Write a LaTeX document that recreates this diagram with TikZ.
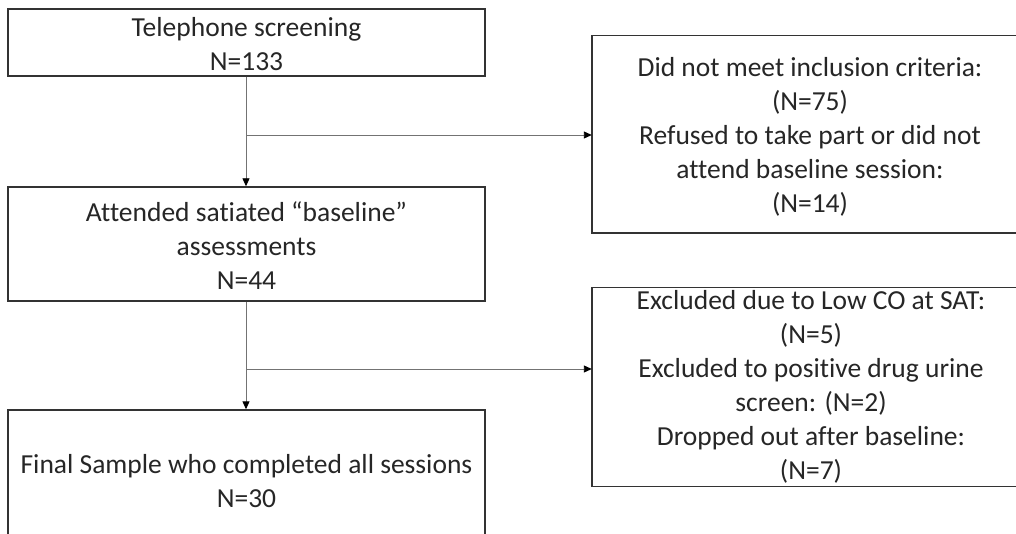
\documentclass[tikz,border=0pt]{standalone}
\usepackage{fontspec}
\setmainfont{Carlito}[Ligatures=NoCommon]
\usetikzlibrary{arrows.meta,fit}
\begin{document}
\begin{tikzpicture}[x=1pt,y=-1pt,
  frame/.style={draw=black!80, line width=1.4pt, rectangle, inner sep=0pt},
  openframe/.style={rectangle, inner sep=0pt},
  edge/.style={draw=black!80, line width=1.4pt},
  label/.style={inner sep=0pt, align=center,
    font=\fontsize{27.5pt}{34pt}\selectfont, text=black!85},
  conn/.style={draw=black!55, line width=0.9pt},
  arr/.style={conn, -{Triangle[length=8pt,width=7pt,color=black,fill=black]}}]
\useasboundingbox (0,0) rectangle (1016,534);
\clip (0,0) rectangle (1016,534);
\fill[white] (0,0) rectangle (1016,534);
% frames
\node[frame, fit={(8,9) (485,76)}] (tel) {};
\node[openframe, fit={(592,36) (1030,233)}] (excl1) {};
\node[frame, fit={(8,187) (485,301)}] (att) {};
\node[openframe, fit={(592,288) (1030,486)}] (excl2) {};
\node[frame, fit={(8,410) (485,600)}] (fin) {};
\draw[edge] (excl1.north east) -| (excl1.south west) -- (excl1.south east);
\draw[edge] (excl2.north east) -| (excl2.south west) -- (excl2.south east);
% texts
\node[label] (telt) at (246.5,44) {Telephone screening\\N=133};
\node[label] (excl1t) at (810,137) {Did not meet inclusion criteria:\\(N=75)\\Refused to take part or did not\\attend baseline session:\\(N=14)};
\node[label] (attt) at (246.5,246) {Attended satiated “baseline”\\assessments\\N=44};
\node[label] (excl2t) at (811,387) {Excluded due to Low CO at SAT:\\(N=5)\\Excluded to positive drug urine\\screen: (N=2)\\Dropped out after baseline:\\(N=7)};
\node[label] (fint) at (246.5,481) {Final Sample who completed all sessions\\N=30};
% connectors
\coordinate (j1) at (246,135);
\coordinate (j2) at (246,369);
\draw[conn] (tel.south -| j1) -- (j1);
\draw[arr] (j1) -- (att.north -| j1);
\draw[arr] (j1) -- (j1 -| excl1.west);
\draw[conn] (att.south -| j2) -- (j2);
\draw[arr] (j2) -- (fin.north -| j2);
\draw[arr] (j2) -- (j2 -| excl2.west);
\end{tikzpicture}
\end{document}
